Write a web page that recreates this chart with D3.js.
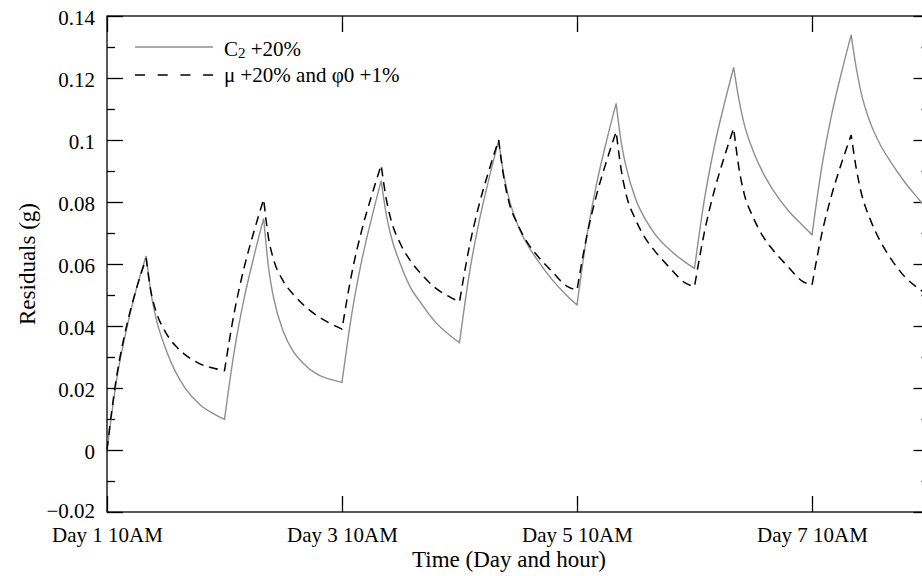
<!DOCTYPE html>
<html lang="en">
<head>
<meta charset="utf-8">
<style type="text/css">
    body { margin: 0; background: #fff; }
    svg text { font-family: "Liberation Serif", "Times New Roman", serif; fill: #000; }
    .axis path, .axis line { stroke: #000; stroke-width: 1.3px; }
    .axis text { font-size: 21px; }
</style>
</head>
<body>
<svg width="922" height="576"></svg>

<script src="https://d3js.org/d3.v7.min.js"></script>
<script type="text/javascript">

    // hours since Day 1 10AM
    var hours = [0, 1, 2, 4, 6, 8, 9, 10, 12, 14, 16, 19, 22,
        24, 26, 28, 30, 32, 33, 34, 36, 38, 40, 43, 46,
        48, 50, 52, 54, 56, 57, 58, 60, 62, 64, 67, 70,
        72, 74, 76, 78, 80, 81, 82, 84, 86, 88, 91, 94,
        96, 98, 100, 102, 104, 105, 106, 108, 110, 112, 115, 118,
        120, 122, 124, 126, 128, 129, 130, 132, 134, 136, 139, 142,
        144, 146, 148, 150, 152, 153, 154, 156, 158, 160, 163, 166,
        168];

    // C2 +20%
    var c2Values = [0, 0.012, 0.023, 0.039, 0.052, 0.0626, 0.0505, 0.0426, 0.0326, 0.0252, 0.0199, 0.0146, 0.0115,
        0.0099, 0.0319, 0.0488, 0.0624, 0.0747, 0.0588, 0.0493, 0.0382, 0.0319, 0.0281, 0.0244, 0.0226,
        0.0218, 0.0439, 0.0609, 0.0745, 0.0869, 0.0764, 0.0691, 0.0597, 0.0524, 0.0477, 0.0414, 0.0370,
        0.0346, 0.0568, 0.0737, 0.0874, 0.0998, 0.0892, 0.0818, 0.0722, 0.0659, 0.0611, 0.0548, 0.0497,
        0.0468, 0.0689, 0.0858, 0.0995, 0.1118, 0.0996, 0.0916, 0.0809, 0.0743, 0.0695, 0.0645, 0.0607,
        0.0586, 0.0806, 0.0975, 0.1111, 0.1234, 0.1137, 0.1061, 0.0964, 0.0894, 0.0840, 0.0775, 0.0726,
        0.0694, 0.0913, 0.1081, 0.1216, 0.1339, 0.1236, 0.1155, 0.1052, 0.0983, 0.0931, 0.0863, 0.0805,
        0.0765];

    // mu +20% and phi0 +1%
    var muPhiValues = [0, 0.013, 0.024, 0.040, 0.052, 0.0618, 0.0509, 0.0448, 0.0379, 0.0336, 0.0307, 0.0278, 0.0263,
        0.0256, 0.0444, 0.0588, 0.0704, 0.0809, 0.0683, 0.0616, 0.0545, 0.0503, 0.0470, 0.0432, 0.0405,
        0.0390, 0.0570, 0.0707, 0.0818, 0.0919, 0.0813, 0.0743, 0.0663, 0.0610, 0.0571, 0.0524, 0.0494,
        0.0478, 0.0655, 0.0791, 0.0901, 0.1000, 0.0884, 0.0806, 0.0724, 0.0666, 0.0625, 0.0574, 0.0528,
        0.0516, 0.0690, 0.0823, 0.0930, 0.1027, 0.0907, 0.0827, 0.0742, 0.0682, 0.0640, 0.0587, 0.0540,
        0.0527, 0.0701, 0.0834, 0.0941, 0.1038, 0.0917, 0.0836, 0.0750, 0.0689, 0.0646, 0.0593, 0.0545,
        0.0532, 0.0697, 0.0822, 0.0924, 0.1016, 0.0912, 0.0834, 0.0740, 0.0672, 0.0620, 0.0558, 0.0518,
        0.0495];

    var xTickHours = [0, 48, 96, 144];
    var xTickLabels = ["Day 1 10AM", "Day 3 10AM", "Day 5 10AM", "Day 7 10AM"];
    var yMajor = [-0.02, 0, 0.02, 0.04, 0.06, 0.08, 0.1, 0.12, 0.14];
    var yMinor = [-0.01, 0.01, 0.03, 0.05, 0.07, 0.09, 0.11, 0.13];
    var seriesNames = ["C", "μ +20% and φ0 +1%"];

    var svg = d3.select("svg"),
        plotLeft = 107, plotRight = 929.5, plotTop = 16, plotBottom = 512;

    var x = d3.scaleLinear().domain([0, 168]).range([plotLeft, plotRight]);
    var y = d3.scaleLinear().domain([-0.02, 0.14]).range([plotBottom, plotTop]);

    // frame
    svg.append("rect")
        .attr("x", plotLeft).attr("y", plotTop)
        .attr("width", plotRight - plotLeft).attr("height", plotBottom - plotTop)
        .attr("fill", "none").attr("stroke", "#000").attr("stroke-width", 1.3);

    function yLabel(d) {
        if (d === 0) return "0";
        var s = d3.format(".2f")(Math.abs(d)).replace(/0$/, "");
        return (d < 0 ? "\u2212" : "") + s;
    }

    // left axis: major + minor ticks pointing inward
    svg.append("g").attr("class", "axis")
        .attr("transform", "translate(" + plotLeft + ",0)")
        .call(d3.axisLeft(y).tickValues(yMajor).tickSize(-16).tickSizeOuter(0).tickPadding(12).tickFormat(yLabel))
        .call(function (g) {
            g.selectAll("text").attr("dy", function (d) { return d < 0 ? "0.28em" : "0.42em"; });
        });

    svg.append("g").attr("class", "axis")
        .attr("transform", "translate(" + plotLeft + ",0)")
        .call(d3.axisLeft(y).tickValues(yMinor).tickSize(-8).tickSizeOuter(0).tickFormat(""));

    // right axis ticks
    svg.append("g").attr("class", "axis")
        .attr("transform", "translate(" + plotRight + ",0)")
        .call(d3.axisRight(y).tickValues(yMajor).tickSize(-16).tickSizeOuter(0).tickFormat(""));
    svg.append("g").attr("class", "axis")
        .attr("transform", "translate(" + plotRight + ",0)")
        .call(d3.axisRight(y).tickValues(yMinor).tickSize(-8).tickSizeOuter(0).tickFormat(""));

    // bottom + top axes
    svg.append("g").attr("class", "axis")
        .attr("transform", "translate(0," + plotBottom + ")")
        .call(d3.axisBottom(x).tickValues(xTickHours).tickSize(-16).tickSizeOuter(0).tickPadding(15)
            .tickFormat(function (d, i) { return xTickLabels[i]; }));
    svg.append("g").attr("class", "axis")
        .attr("transform", "translate(0," + plotTop + ")")
        .call(d3.axisTop(x).tickValues(xTickHours).tickSize(-16).tickSizeOuter(0).tickFormat(""));

    svg.selectAll(".axis .domain").remove();

    // axis titles
    svg.append("text")
        .attr("x", 509).attr("y", 567)
        .attr("text-anchor", "middle").style("font-size", "23px")
        .text("Time (Day and hour)");
    svg.append("text")
        .attr("transform", "translate(35," + ((plotTop + plotBottom) / 2) + ") rotate(-90)")
        .attr("text-anchor", "middle").style("font-size", "23px")
        .text("Residuals (g)");

    // split the series at peaks/troughs so the cusps stay sharp
    function cuspPath(values) {
        var pts = hours.map(function (h, i) { return [x(h), y(values[i])]; });
        var pieces = [], cur = [pts[0]], dir = 0;
        for (var i = 1; i < pts.length; i++) {
            var d = Math.sign(values[i] - values[i - 1]);
            if (dir !== 0 && d !== dir) { pieces.push(cur); cur = [pts[i - 1]]; }
            cur.push(pts[i]);
            dir = d;
        }
        pieces.push(cur);
        var line = d3.line().curve(d3.curveMonotoneX);
        return pieces.map(function (p, k) {
            var s = line(p);
            return k === 0 ? s : s.replace(/^M[^A-Za-z]*/, "");
        }).join("");
    }

    var plot = svg.append("g");
    plot.append("path")
        .attr("d", cuspPath(c2Values))
        .attr("fill", "none").attr("stroke", "#8f8f8f").attr("stroke-width", 1.4);
    plot.append("path")
        .attr("d", cuspPath(muPhiValues))
        .attr("fill", "none").attr("stroke", "#000").attr("stroke-width", 1.5)
        .attr("stroke-dasharray", "9,6");

    // legend
    var legend = svg.append("g");
    legend.append("line").attr("x1", 135).attr("x2", 213).attr("y1", 47).attr("y2", 47)
        .attr("stroke", "#8f8f8f").attr("stroke-width", 1.4);
    legend.append("line").attr("x1", 135).attr("x2", 213).attr("y1", 75).attr("y2", 75)
        .attr("stroke", "#000").attr("stroke-width", 1.5).attr("stroke-dasharray", "10,12.7");

    var t1 = legend.append("text").attr("x", 224).attr("y", 55.5).style("font-size", "21px");
    t1.append("tspan").text(seriesNames[0]);
    t1.append("tspan").attr("dy", 2).style("font-size", "15px").text("2");
    t1.append("tspan").attr("dy", -2).text(" +20%");
    legend.append("text").attr("x", 224).attr("y", 82).style("font-size", "21px").text(seriesNames[1]);

</script>
</body>
</html>
